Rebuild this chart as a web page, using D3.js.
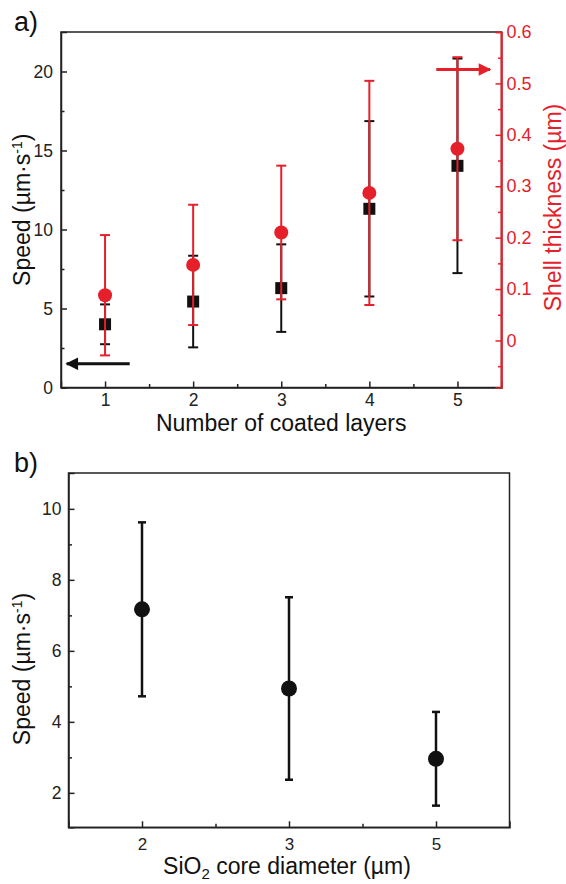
<!DOCTYPE html>
<html>
<head>
<meta charset="utf-8">
<script src="https://cdn.jsdelivr.net/npm/d3@7"></script>
<style>
  body { margin: 0; background: #fff; }
  svg text { font-family: "Liberation Sans", Arial, sans-serif; }
</style>
</head>
<body>
<svg width="566" height="884"></svg>
<script>
// panel a data
const layers = [1, 2, 3, 4, 5];
const speedA = [4.0, 5.44, 6.29, 11.31, 14.03];
const speedAErr = [1.26, 2.9, 2.77, 5.55, 6.79];
const shell = [0.088, 0.147, 0.21, 0.287, 0.373];
const shellErr = [0.117, 0.117, 0.13, 0.218, 0.178];
const speedTicks = [0, 5, 10, 15, 20];
const shellTicks = [0, 0.1, 0.2, 0.3, 0.4, 0.5, 0.6];

// panel b data
const cores = ['2', '3', '5'];
const speedB = [7.17, 4.94, 2.96];
const speedBErr = [2.45, 2.57, 1.32];
const speedBTicks = [2, 4, 6, 8, 10];

const red = '#e5202a';
const svg = d3.select('svg');

/* ---------- panel a ---------- */
const ax = { l: 61, r: 501.5, t: 32, b: 387.5 };

const xA = d3.scaleLinear().domain([0.5, 5.5]).range([ax.l, ax.r]);
const yA = d3.scaleLinear().domain([0, 22.5]).range([ax.b, ax.t]);
const yR = d3.scaleLinear().domain([-0.0915, 0.6]).range([ax.b, ax.t]);

const gA = svg.append('g');

// frame
gA.append('rect')
    .attr('x', ax.l).attr('y', ax.t)
    .attr('width', ax.r - ax.l).attr('height', ax.b - ax.t)
    .attr('fill', 'none').attr('stroke', '#222').attr('stroke-width', 1.5);

function styleAxis(g, color, size) {
    g.select('.domain').attr('stroke', color).attr('stroke-width', 1.5);
    g.selectAll('.tick line').attr('stroke', color).attr('stroke-width', 1.5);
    g.selectAll('.tick text').attr('fill', color).style('font-size', size + 'px');
}

// bottom axis
gA.append('g').attr('transform', `translate(0,${ax.b})`)
    .call(d3.axisBottom(xA).tickValues(layers).tickSize(-6).tickPadding(6).tickFormat(d3.format('d')))
    .call(g => styleAxis(g, '#222', 17.5));
gA.append('g').attr('transform', `translate(0,${ax.b})`)
    .call(d3.axisBottom(xA).tickValues([1.5, 2.5, 3.5, 4.5]).tickSize(-3.5).tickFormat(''))
    .call(g => { styleAxis(g, '#222', 16); g.select('.domain').remove(); });

// left axis
gA.append('g').attr('transform', `translate(${ax.l},0)`)
    .call(d3.axisLeft(yA).tickValues(speedTicks).tickSize(-6).tickPadding(8))
    .call(g => styleAxis(g, '#222', 17.5));
gA.append('g').attr('transform', `translate(${ax.l},0)`)
    .call(d3.axisLeft(yA).tickValues([2.5, 7.5, 12.5, 17.5]).tickSize(-3.5).tickFormat(''))
    .call(g => { styleAxis(g, '#222', 16); g.select('.domain').remove(); });

// right axis (red)
gA.append('g').attr('transform', `translate(${ax.r},0)`)
    .call(d3.axisRight(yR).tickValues(shellTicks).tickSize(-6).tickPadding(5)
        .tickFormat(d => d === 0 ? '0' : d3.format('.1f')(d)))
    .call(g => styleAxis(g, red, 18));
gA.append('g').attr('transform', `translate(${ax.r},0)`)
    .call(d3.axisRight(yR).tickValues([-0.05, 0.05, 0.15, 0.25, 0.35, 0.45, 0.55]).tickSize(-3.5).tickFormat(''))
    .call(g => { styleAxis(g, red, 16); g.select('.domain').remove(); });
gA.append('line')
    .attr('x1', ax.r).attr('x2', ax.r).attr('y1', ax.t).attr('y2', ax.b)
    .attr('stroke', red).attr('stroke-width', 1.8);

// black speed series
const dataA = layers.map((l, i) => ({ x: l, s: speedA[i], se: speedAErr[i], h: shell[i], he: shellErr[i] }));

function errorBars(g, data, xs, ys, key, err, color, cap, w) {
    const e = g.append('g').selectAll('g').data(data).enter().append('g');
    e.append('line')
        .attr('x1', d => xs(d.x)).attr('x2', d => xs(d.x))
        .attr('y1', d => ys(d[key] + d[err])).attr('y2', d => ys(d[key] - d[err]))
        .attr('stroke', color).attr('stroke-width', w);
    [1, -1].forEach(sg => {
        e.append('line')
            .attr('x1', d => xs(d.x) - cap / 2).attr('x2', d => xs(d.x) + cap / 2)
            .attr('y1', d => ys(d[key] + sg * d[err])).attr('y2', d => ys(d[key] + sg * d[err]))
            .attr('stroke', color).attr('stroke-width', w);
    });
}

errorBars(gA, dataA, xA, yA, 's', 'se', '#111', 10, 2);
gA.append('g').selectAll('rect').data(dataA).enter().append('rect')
    .attr('x', d => xA(d.x) - 6).attr('y', d => yA(d.s) - 6)
    .attr('width', 12).attr('height', 12)
    .attr('fill', '#111');

errorBars(gA, dataA, xA, yR, 'h', 'he', red, 10, 2);
gA.append('g').selectAll('circle').data(dataA).enter().append('circle')
    .attr('cx', d => xA(d.x)).attr('cy', d => yR(d.h)).attr('r', 7)
    .attr('fill', red);

// arrows
svg.append('defs').selectAll('marker').data([['headK', '#111'], ['headR', red]]).enter()
    .append('marker')
    .attr('id', d => d[0])
    .attr('viewBox', '0 0 10 10').attr('refX', 9).attr('refY', 5)
    .attr('markerWidth', 4.5).attr('markerHeight', 4.2)
    .attr('markerUnits', 'strokeWidth')
    .attr('orient', 'auto')
    .append('path').attr('d', 'M0,0 L10,5 L0,10 Z').attr('fill', d => d[1]);

gA.append('line')
    .attr('x1', xA(1.28)).attr('x2', xA(0.565))
    .attr('y1', yA(1.5)).attr('y2', yA(1.5))
    .attr('stroke', '#111').attr('stroke-width', 3)
    .attr('marker-end', 'url(#headK)');
gA.append('line')
    .attr('x1', xA(4.76)).attr('x2', xA(5.37))
    .attr('y1', yR(0.527)).attr('y2', yR(0.527))
    .attr('stroke', red).attr('stroke-width', 3)
    .attr('marker-end', 'url(#headR)');

// titles
gA.append('text').attr('x', 14).attr('y', 31).text('a)')
    .style('font-size', '27px').attr('fill', '#111');
gA.append('text').attr('x', (ax.l + ax.r) / 2).attr('y', 431)
    .attr('text-anchor', 'middle').style('font-size', '23px').attr('fill', '#111')
    .text('Number of coated layers');

function speedLabel(g, x, y) {
    const t = g.append('text').attr('transform', `translate(${x},${y}) rotate(-90)`)
        .attr('text-anchor', 'middle').style('font-size', '23px').attr('fill', '#111');
    t.append('tspan').text('Speed (µm·s');
    t.append('tspan').attr('dy', -8).style('font-size', '14px').text('-1');
    t.append('tspan').attr('dy', 8).text(')');
}
speedLabel(gA, 30, (ax.t + ax.b) / 2);

gA.append('text').attr('transform', `translate(561,207.5) rotate(-90)`)
    .attr('text-anchor', 'middle').style('font-size', '23px').attr('fill', red)
    .text('Shell thickness (µm)');

/* ---------- panel b ---------- */
const bx = { l: 68.5, r: 509.5, t: 473, b: 827.3 };
const xB = d3.scaleLinear().domain([-0.5, 2.5]).range([bx.l, bx.r]);
const yB = d3.scaleLinear().domain([1.03, 11.01]).range([bx.b, bx.t]);

const gB = svg.append('g');
gB.append('rect')
    .attr('x', bx.l).attr('y', bx.t)
    .attr('width', bx.r - bx.l).attr('height', bx.b - bx.t)
    .attr('fill', 'none').attr('stroke', '#222').attr('stroke-width', 1.5);

gB.append('g').attr('transform', `translate(0,${bx.b})`)
    .call(d3.axisBottom(xB).tickValues([0, 1, 2]).tickSize(-6).tickPadding(11).tickFormat(i => cores[i]))
    .call(g => styleAxis(g, '#222', 17));
gB.append('g').attr('transform', `translate(0,${bx.b})`)
    .call(d3.axisBottom(xB).tickValues([0.5, 1.5]).tickSize(-3.5).tickFormat(''))
    .call(g => { styleAxis(g, '#222', 16); g.select('.domain').remove(); });

gB.append('g').attr('transform', `translate(${bx.l},0)`)
    .call(d3.axisLeft(yB).tickValues(speedBTicks).tickSize(-6).tickPadding(7))
    .call(g => styleAxis(g, '#222', 17.5));
gB.append('g').attr('transform', `translate(${bx.l},0)`)
    .call(d3.axisLeft(yB).tickValues([3, 5, 7, 9]).tickSize(-3.5).tickFormat(''))
    .call(g => { styleAxis(g, '#222', 16); g.select('.domain').remove(); });

const dataB = cores.map((c, i) => ({ x: i, s: speedB[i], se: speedBErr[i] }));
errorBars(gB, dataB, xB, yB, 's', 'se', '#111', 8, 2.5);
gB.append('g').selectAll('circle').data(dataB).enter().append('circle')
    .attr('cx', d => xB(d.x)).attr('cy', d => yB(d.s)).attr('r', 8)
    .attr('fill', '#111');

gB.append('text').attr('x', 14).attr('y', 471.5).text('b)')
    .style('font-size', '27px').attr('fill', '#111');
speedLabel(gB, 30, 669);

const xt = gB.append('text').attr('x', 287).attr('y', 874)
    .attr('text-anchor', 'middle').style('font-size', '23px').attr('fill', '#111');
xt.append('tspan').text('SiO');
xt.append('tspan').attr('dy', 5).style('font-size', '15px').text('2');
xt.append('tspan').attr('dy', -5).text(' core diameter (µm)');
</script>
</body>
</html>
